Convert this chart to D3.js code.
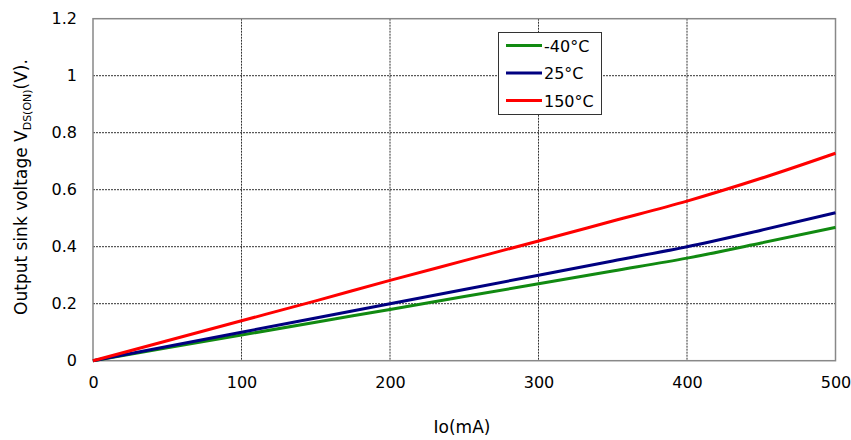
<!DOCTYPE html>
<html><head><meta charset="utf-8">
<script src="https://cdn.jsdelivr.net/npm/d3@7"></script>
<style>body{margin:0;background:#fff}svg{display:block}text{font-family:"DejaVu Sans",Verdana,sans-serif}</style>
</head><body><svg id="c" width="851" height="440"></svg>
<script>
const currents = [0, 50, 100, 150, 200, 250, 300, 350, 400, 450, 500];
const vMinus40 = [0, 0.045, 0.09, 0.135, 0.18, 0.225, 0.27, 0.315, 0.36, 0.413, 0.468];
const v25 = [0, 0.05, 0.10, 0.15, 0.20, 0.25, 0.30, 0.35, 0.40, 0.458, 0.519];
const v150 = [0, 0.07, 0.14, 0.21, 0.282, 0.351, 0.42, 0.49, 0.56, 0.64, 0.728];
const seriesNames = ["-40°C", "25°C", "150°C"];
const seriesColors = ["#118a11", "#000080", "#ff0000"];
const xTicks = [0, 100, 200, 300, 400, 500];
const yTicks = [0, 0.2, 0.4, 0.6, 0.8, 1, 1.2];
const yTickLabels = ["0", "0.2", "0.4", "0.6", "0.8", "1", "1.2"];

const svg = d3.select("#c");
const L = 93, R = 835.5, T = 18.7, B = 360.7;
const x = d3.scaleLinear().domain([0, 500]).range([L, R]);
const y = d3.scaleLinear().domain([0, 1.2]).range([B, T]);

// grid
const g = svg.append("g");
g.selectAll("line.gx").data(xTicks.slice(1, -1)).join("line")
  .attr("x1", d => x(d)).attr("x2", d => x(d)).attr("y1", T).attr("y2", B)
  .attr("stroke", "#333").attr("stroke-width", 1).attr("stroke-dasharray", "2,1");
g.selectAll("line.gy").data(yTicks.slice(1, -1)).join("line")
  .attr("y1", d => y(d)).attr("y2", d => y(d)).attr("x1", L).attr("x2", R)
  .attr("stroke", "#333").attr("stroke-width", 1).attr("stroke-dasharray", "2,1");

// frame
svg.append("rect").attr("x", L).attr("y", T).attr("width", R - L).attr("height", B - T)
  .attr("fill", "none").attr("stroke", "#888").attr("stroke-width", 1.5);

// axes labels via d3 axes
const xAxis = svg.append("g").attr("transform", `translate(0,${B})`)
  .call(d3.axisBottom(x).tickValues(xTicks).tickSize(0).tickPadding(16).tickFormat(d3.format("d")));
xAxis.select(".domain").remove();
xAxis.selectAll("text").attr("font-size", 16).attr("fill", "#000").attr("font-family", "DejaVu Sans");
const yAxis = svg.append("g").attr("transform", `translate(${L},0)`)
  .call(d3.axisLeft(y).tickValues(yTicks).tickSize(0).tickPadding(16).tickFormat((d, i) => yTickLabels[i]));
yAxis.select(".domain").remove();
yAxis.selectAll("text").attr("font-size", 16).attr("fill", "#000").attr("font-family", "DejaVu Sans");

// lines
const data = [vMinus40, v25, v150];
const line = d3.line().x((d, i) => x(currents[i])).y(d => y(d)).curve(d3.curveMonotoneX);
svg.selectAll("path.s").data(data).join("path")
  .attr("d", d => line(d)).attr("fill", "none")
  .attr("stroke", (d, i) => seriesColors[i]).attr("stroke-width", 3);

// legend
const lg = svg.append("g");
lg.append("rect").attr("x", 498.5).attr("y", 32.5).attr("width", 103).attr("height", 82)
  .attr("fill", "#fff").attr("stroke", "#333").attr("stroke-width", 1);
seriesNames.forEach((n, i) => {
  const yy = 45.5 + i * 27.5;
  lg.append("line").attr("x1", 506).attr("x2", 542).attr("y1", yy).attr("y2", yy)
    .attr("stroke", seriesColors[i]).attr("stroke-width", 3);
  lg.append("text").attr("x", 544).attr("y", yy + 6).attr("font-size", 16).text(n);
});

// axis titles
svg.append("text").attr("x", 462).attr("y", 433).attr("text-anchor", "middle")
  .attr("font-size", 17).text("Io(mA)");
const yt = svg.append("text").attr("transform", "translate(27,187) rotate(-90)")
  .attr("text-anchor", "middle").attr("font-size", 17);
yt.append("tspan").text("Output sink voltage V");
yt.append("tspan").attr("font-size", 11).attr("dy", 4).text("DS(ON)");
yt.append("tspan").attr("dy", -4).text("(V).");
</script></body></html>
